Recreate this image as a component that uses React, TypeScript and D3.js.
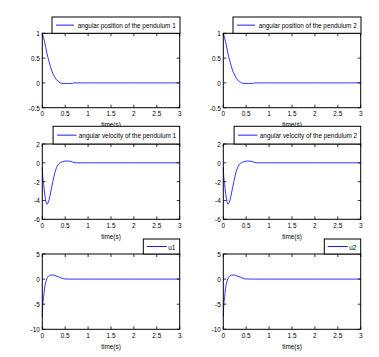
import React from "react";
import * as d3 from "d3";

// ---- data ----
const xTicks = [0, 0.5, 1, 1.5, 2, 2.5, 3];
const xTickLabels = ["0", "0.5", "1", "1.5", "2", "2.5", "3"];

const posYTicks = [-0.5, 0, 0.5, 1];
const velYTicks = [-6, -4, -2, 0, 2];
const uYTicks = [-10, -5, 0, 5];

const posT = [0, 0.05, 0.1, 0.15, 0.2, 0.25, 0.3, 0.36, 0.4, 0.45, 0.55, 0.66, 0.68, 1.0, 2.0, 3.0];
const posV = [1, 0.83, 0.6, 0.42, 0.26, 0.155, 0.075, 0.02, 0, -0.01, -0.012, -0.01, 0, 0, 0, 0];

const velT = [0, 0.01, 0.03, 0.05, 0.08, 0.1, 0.12, 0.15, 0.18, 0.23, 0.28, 0.34, 0.41, 0.47, 0.52, 0.58, 0.63, 0.69, 0.75, 1.0, 2.0, 3.0];
const velV = [-0.5, -1.5, -2.3, -3.2, -4.1, -4.4, -4.3, -3.9, -3.2, -2.0, -0.95, -0.23, 0.05, 0.15, 0.19, 0.18, 0.15, 0.03, 0, 0, 0, 0];

const uT = [0, 0.005, 0.03, 0.05, 0.08, 0.12, 0.18, 0.25, 0.3, 0.38, 0.43, 0.48, 0.6, 1.0, 2.0, 3.0];
const uV = [-7.5, -6.0, -3.5, -1.8, -0.5, 0.45, 0.8, 0.8, 0.62, 0.36, 0.16, 0.03, 0, 0, 0, 0];

const legendLabels = [
  ["angular position of the pendulum 1", "angular position of the pendulum 2"],
  ["angular velocity of the pendulum 1", "angular velocity of the pendulum 2"],
  ["u1", "u2"],
];
const xLabel = "time(s)";

// ---- layout ----
const W = 379, H = 357;
const colLeft = [42.3, 223.3];
const axW = 137.4;
const rowTop = [33.3, 144, 254];
const rowH = [74.4, 75.3, 75.3];
const FONT = "'Liberation Sans', Arial, Helvetica, sans-serif";
const SX = 0.8;

const rows = [
  { t: posT, v: posV, domain: [-0.5, 1], ticks: posYTicks },
  { t: velT, v: velV, domain: [-6, 2], ticks: velYTicks },
  { t: uT, v: uV, domain: [-10, 5], ticks: uYTicks },
];

const legendGeom = [
  { boxOff: 9.7, boxW: 128, top: 17, bottom: 33.3, lineA: 4, lineB: 22, textOff: 25.7 },
  { boxOff: 10.8, boxW: 126.6, top: 126.3, bottom: 144, lineA: 4, lineB: 23.4, textOff: 25.7 },
  { boxOff: 101, boxW: 36.4, top: 239, bottom: 254, lineA: 3.4, lineB: 23.4, textOff: 25 },
];

function T({ x, y, anchor = "start", children, size = 8 }: any) {
  return (
    <text
      transform={`translate(${x},${y}) scale(${SX},1)`}
      textAnchor={anchor}
      fontFamily={FONT}
      fontSize={size}
      fill="#000"
    >
      {children}
    </text>
  );
}

function Panel({ row, col }: { row: number; col: number }) {
  const r = rows[row];
  const left = colLeft[col];
  const top = rowTop[row];
  const h = rowH[row];
  const x = d3.scaleLinear().domain([0, 3]).range([left, left + axW]);
  const y = d3.scaleLinear().domain(r.domain).range([top + h, top]);
  const data = r.t.map((t, i) => [t, r.v[i]] as [number, number]);
  const line = d3
    .line<[number, number]>()
    .x((d) => x(d[0]))
    .y((d) => y(d[1]))
    .curve(d3.curveMonotoneX);
  const tl = 3;
  return (
    <g>
      <rect x={left} y={top} width={axW} height={h} fill="#fff" stroke="none" />
      <path d={line(data) || ""} fill="none" stroke="#0000ff" strokeWidth={0.8} />
      {xTicks.map((t, i) => (
        <g key={"x" + i}>
          <line x1={x(t)} x2={x(t)} y1={top + h} y2={top + h - tl} stroke="#000" strokeWidth={0.8} />
          <line x1={x(t)} x2={x(t)} y1={top} y2={top + tl} stroke="#000" strokeWidth={0.8} />
          <T x={x(t)} y={top + h + 8.7} anchor="middle">
            {xTickLabels[i]}
          </T>
        </g>
      ))}
      {r.ticks.map((t, i) => (
        <g key={"y" + i}>
          <line x1={left} x2={left + tl} y1={y(t)} y2={y(t)} stroke="#000" strokeWidth={0.8} />
          <line x1={left + axW} x2={left + axW - tl} y1={y(t)} y2={y(t)} stroke="#000" strokeWidth={0.8} />
          <T x={left - 2.5} y={y(t) + 2.9} anchor="end">
            {String(t)}
          </T>
        </g>
      ))}
      <rect x={left} y={top} width={axW} height={h} fill="none" stroke="#000" strokeWidth={1} />
      <T x={left + axW / 2} y={top + h + 19.6} anchor="middle">
        {xLabel}
      </T>
    </g>
  );
}

function Legend({ row, col }: { row: number; col: number }) {
  const g = legendGeom[row];
  const bx = colLeft[col] + g.boxOff;
  const cy = (g.top + g.bottom) / 2;
  return (
    <g>
      <rect x={bx} y={g.top} width={g.boxW} height={g.bottom - g.top} fill="#fff" stroke="#000" strokeWidth={1} />
      <line x1={bx + g.lineA} x2={bx + g.lineB} y1={cy} y2={cy} stroke="#0000ff" strokeWidth={0.9} />
      <T x={bx + g.textOff} y={cy + 3}>
        {legendLabels[row][col]}
      </T>
    </g>
  );
}

export default function App() {
  const cells: [number, number][] = [];
  for (let r = 0; r < 3; r++) for (let c = 0; c < 2; c++) cells.push([r, c]);
  return (
    <svg
      width={W}
      height={H}
      viewBox={`0 0 ${W} ${H}`}
      style={{ position: "absolute", left: 0, top: 0, background: "#fff" }}
    >
      <rect x={0} y={0} width={W} height={H} fill="#fff" />
      {cells.map(([r, c]) => (
        <Panel key={`p${r}${c}`} row={r} col={c} />
      ))}
      {cells.map(([r, c]) => (
        <Legend key={`l${r}${c}`} row={r} col={c} />
      ))}
    </svg>
  );
}
